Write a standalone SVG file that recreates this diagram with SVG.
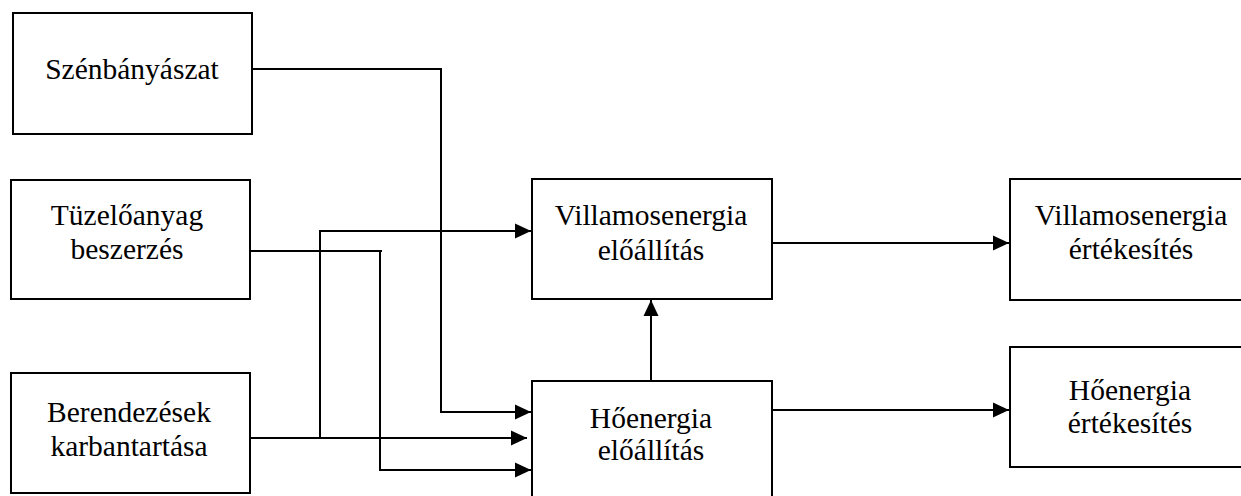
<svg xmlns="http://www.w3.org/2000/svg" width="1241" height="496" viewBox="0 0 1241 496">
<style>
.box{fill:#fff;stroke:#000;stroke-width:2}
.lbl{font-family:"Liberation Serif","Times New Roman",serif;font-size:29.5px;fill:#000;text-anchor:middle}
.ln{fill:none;stroke:#000;stroke-width:2}
</style>
<defs>
<marker id="ah" markerUnits="userSpaceOnUse" markerWidth="18" markerHeight="18" viewBox="0 0 18 18" refX="16" refY="9" orient="auto">
<path d="M0,1.5 L16,9 L0,16.5 Z" fill="#000"/>
</marker>
</defs>
<rect width="1241" height="496" fill="#fff"/>
<g id="connectors">
<polyline class="ln" points="252,69 441,69 441,412 531,412" marker-end="url(#ah)"/>
<polyline class="ln" points="250,251 382,251"/>
<polyline class="ln" points="380,251 380,470 531,470" marker-end="url(#ah)"/>
<polyline class="ln" points="247,438 527,438" marker-end="url(#ah)"/>
<polyline class="ln" points="320,438 320,231 531,231" marker-end="url(#ah)"/>
<polyline class="ln" points="651,381 651,300" marker-end="url(#ah)"/>
<polyline class="ln" points="772,243 1009,243" marker-end="url(#ah)"/>
<polyline class="ln" points="772,410 1009,410" marker-end="url(#ah)"/>
</g>
<g id="szenbanyaszat">
<rect class="box" x="13" y="13" width="239" height="121"/>
<text class="lbl" x="132" y="79">Szénbányászat</text>
</g>
<g id="tuzeloanyag">
<rect class="box" x="11" y="180" width="239" height="119"/>
<text class="lbl" x="127" y="225">Tüzelőanyag</text>
<text class="lbl" x="127" y="259">beszerzés</text>
</g>
<g id="berendezesek">
<rect class="box" x="11" y="373" width="239" height="120"/>
<text class="lbl" x="129" y="422">Berendezések</text>
<text class="lbl" x="129" y="456">karbantartása</text>
</g>
<g id="villamos-eloallitas">
<rect class="box" x="532" y="179" width="240" height="120"/>
<text class="lbl" x="651" y="225">Villamosenergia</text>
<text class="lbl" x="651" y="260">előállítás</text>
</g>
<g id="ho-eloallitas">
<rect class="box" x="532" y="381" width="240" height="125"/>
<text class="lbl" x="651" y="428">Hőenergia</text>
<text class="lbl" x="651" y="460">előállítás</text>
</g>
<g id="villamos-ertekesites">
<rect class="box" x="1010" y="179" width="240" height="121"/>
<text class="lbl" x="1131" y="225">Villamosenergia</text>
<text class="lbl" x="1131" y="259">értékesítés</text>
</g>
<g id="ho-ertekesites">
<rect class="box" x="1010" y="347" width="240" height="120"/>
<text class="lbl" x="1130" y="400">Hőenergia</text>
<text class="lbl" x="1130" y="433">értékesítés</text>
</g>
</svg>
